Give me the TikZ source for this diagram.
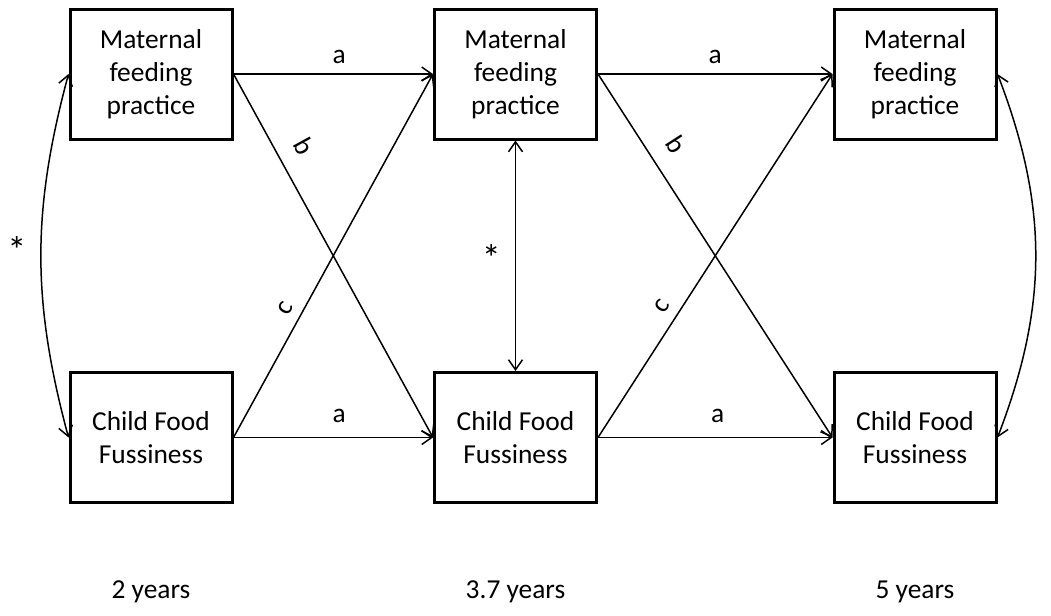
\documentclass[tikz,border=0pt]{standalone}
\usepackage{fontspec}
\setmainfont{Carlito}
\usetikzlibrary{arrows.meta, positioning}

\begin{document}
\begin{tikzpicture}[x=0.5pt, y=-0.5pt]
    \def \xa {151}
    \def \xb {515.5}
    \def \xc {915}
    \def \yt {74}
    \def \yb {437.5}
    \tikzstyle{every node}=[font=\fontsize{13.7}{16.5}\selectfont];
    \tikzstyle{box}=[draw, line width=1.5pt, minimum width=81pt, minimum height=65pt, inner sep=0pt, align=center];
    \tikzstyle{lbl}=[inner sep=0pt];
    \tikzstyle{star}=[inner sep=0pt, font=\fontsize{19}{20}\selectfont];
    \tikzstyle{link}=[line width=0.75pt, -{Straight Barb[length=5pt,width=7pt]}];
    \tikzstyle{both}=[line width=0.75pt, {Straight Barb[length=5pt,width=7pt]}-{Straight Barb[length=5pt,width=7pt]}];
    \useasboundingbox (0,0) rectangle (1051,616);
    % boxes
    \node[box] (m1) at (\xa,\yt) {Maternal\\feeding\\practice};
    \node[box] (m2) at (\xb,\yt) {Maternal\\feeding\\practice};
    \node[box] (m3) at (\xc,\yt) {Maternal\\feeding\\practice};
    \node[box] (f1) at (\xa,\yb) {Child Food\\Fussiness};
    \node[box] (f2) at (\xb,\yb) {Child Food\\Fussiness};
    \node[box] (f3) at (\xc,\yb) {Child Food\\Fussiness};
    % paths
    \draw[link] (m1.east) -- (m2.west) node[lbl, pos=0.53, above=5pt] {a};
    \draw[link] (m2.east) -- (m3.west) node[lbl, pos=0.5, above=5pt] {a};
    \draw[link] (f1.east) -- (f2.west) node[lbl, pos=0.53, above=7pt] {a};
    \draw[link] (f2.east) -- (f3.west) node[lbl, pos=0.51, above=7pt] {a};
    \draw[link] (m1.east) -- (f2.west) node[lbl, pos=0.235, sloped, above=8.5pt] {b};
    \draw[link] (m2.east) -- (f3.west) node[lbl, pos=0.235, sloped, above=8.5pt] {b};
    \draw[link] (f1.east) -- (m2.west) node[lbl, pos=0.335, sloped, above=4.5pt] {c};
    \draw[link] (f2.east) -- (m3.west) node[lbl, pos=0.335, sloped, above=5pt] {c};
    % correlations
    \draw[both] (m1.west) to[bend right=15] node[star, midway, left=7pt, yshift=3pt] {*} (f1.west);
    \draw[both] (m2.south) -- (f2.north) node[star, midway, left=7pt, yshift=-1pt] {*};
    \draw[both] (m3.east) to[bend left=21] node[star, midway, right=8pt, yshift=3pt] {*} (f3.east);
    % ages
    \node (y1) at (\xa,592) {2 years};
    \node (y2) at (\xb,592) {3.7 years};
    \node (y3) at (\xc,592) {5 years};
\end{tikzpicture}
\end{document}
